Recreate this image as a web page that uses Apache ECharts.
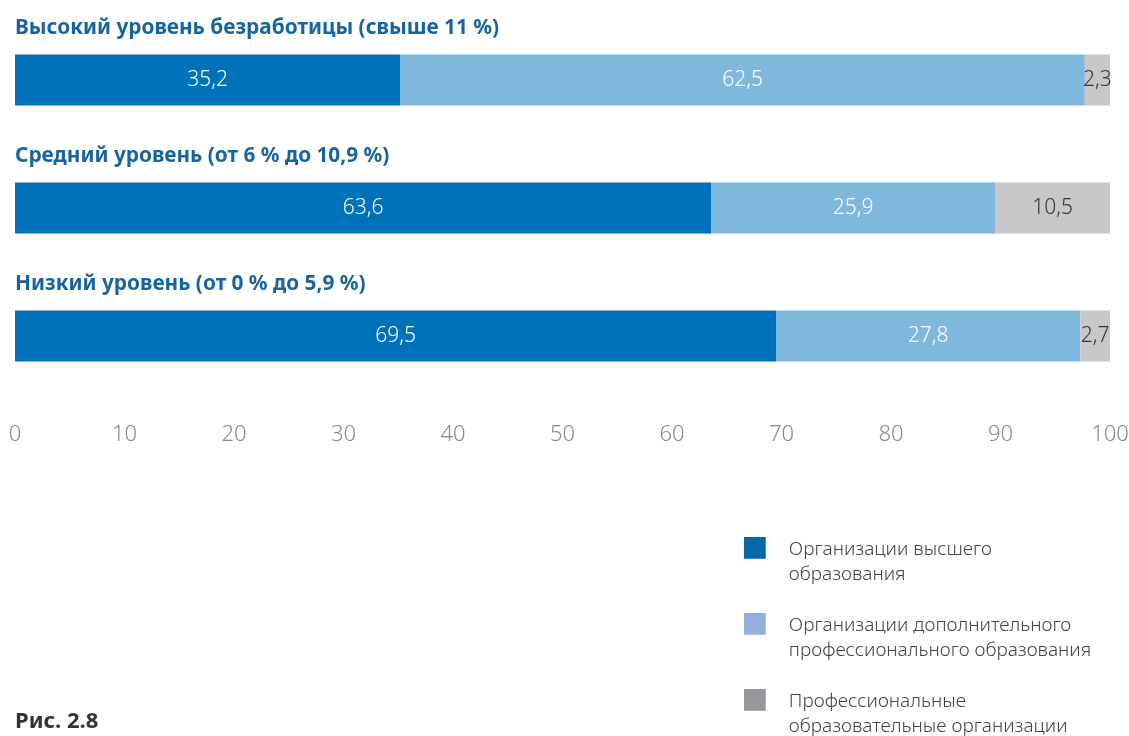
<!DOCTYPE html>
<html>
<head>
<meta charset="utf-8">
<script src="https://cdn.jsdelivr.net/npm/echarts@6/dist/echarts.min.js"></script>
<style>
  html, body { margin: 0; padding: 0; background: #ffffff; }
  #chart { width: 1129px; height: 736px; }
</style>
</head>
<body>
<div id="chart"></div>
<script>
// Unemployment groups (one bar per group, top to bottom)
const categories = [
  'Высокий уровень безработицы (свыше 11 %)',
  'Средний уровень (от 6 % до 10,9 %)',
  'Низкий уровень (от 0 % до 5,9 %)'
];

// Share of each organisation type, %
const seriesNames = [
  'Организации высшего\nобразования',
  'Организации дополнительного\nпрофессионального образования',
  'Профессиональные\nобразовательные организации'
];
const higherEdu = [35.2, 63.6, 69.5];
const additionalEdu = [62.5, 25.9, 27.8];
const vocationalEdu = [2.3, 10.5, 2.7];

const xTicks = [0, 10, 20, 30, 40, 50, 60, 70, 80, 90, 100];
const figureCaption = 'Рис. 2.8';

const FONT = '"Noto Sans", "Open Sans", sans-serif';
const barColors = ['#0071bb', '#80b7dd', '#c8c8ca'];
const legendColors = ['#0569a8', '#93b0dc', '#97979b'];
const labelColors = ['#ffffff', '#ffffff', '#333333'];

const chart = echarts.init(document.getElementById('chart'), null, { renderer: 'canvas' });

const fmt = v => String(v).replace('.', ',');
const valuesBySeries = [higherEdu, additionalEdu, vocationalEdu];

// square icon drawn in the top part of a taller box, so it sits next to the first text line
const legendIcon = 'path://M0,0L1,0L1,1L0,1Z M0,2.3L0.001,2.3';

const option = {
  animation: false,
  backgroundColor: '#ffffff',
  grid: { left: 15, right: 19, top: 16, bottom: 336, containLabel: false, outerBoundsMode: 'none' },
  xAxis: {
    type: 'value',
    min: 0,
    max: 100,
    interval: 10,
    axisLine: { show: false },
    axisTick: { show: false },
    splitLine: { show: false },
    axisLabel: {
      margin: 24,
      color: '#8a8a8a',
      fontFamily: FONT,
      fontWeight: 300,
      fontSize: 22,
      formatter: v => (xTicks.includes(v) ? String(v) : '')
    }
  },
  yAxis: {
    type: 'category',
    inverse: true,
    data: categories,
    axisLine: { show: false },
    axisTick: { show: false },
    axisLabel: { show: false }
  },
  legend: {
    orient: 'vertical',
    left: 744,
    top: 537,
    height: 260,
    padding: 0,
    itemWidth: 22,
    itemHeight: 50,
    itemGap: 26,
    icon: legendIcon,
    selectedMode: false,
    textStyle: {
      color: '#444444',
      fontFamily: FONT,
      fontWeight: 300,
      fontSize: 19,
      lineHeight: 25,
      padding: [0, 0, 0, 18]
    },
    data: seriesNames.map((n, i) => ({ name: n, itemStyle: { color: legendColors[i] } }))
  },
  series: seriesNames.map((name, i) => ({
    name: name,
    type: 'bar',
    stack: 'total',
    barWidth: 51,
    itemStyle: { color: barColors[i] },
    label: {
      show: true,
      position: 'inside',
      color: labelColors[i],
      fontFamily: FONT,
      fontWeight: 300,
      fontSize: 21,
      formatter: p => fmt(p.value)
    },
    labelLayout: { hideOverlap: false },
    data: valuesBySeries[i]
  }))
};

chart.setOption(option);

// Group titles above each bar, placed through the axis scales
const titleGraphics = categories.map((c, i) => {
  const y = chart.convertToPixel({ yAxisIndex: 0 }, i);
  const x = chart.convertToPixel({ xAxisIndex: 0 }, 0);
  return {
    type: 'text',
    left: x,
    top: y - 62,
    style: {
      text: c,
      fill: '#1665a2',
      font: 'bold 20.8px ' + FONT
    }
  };
});

chart.setOption({
  graphic: titleGraphics.concat([{
    type: 'text',
    left: 15,
    top: 711,
    style: { text: figureCaption, fill: '#333333', font: 'bold 22px ' + FONT }
  }])
});
</script>
</body>
</html>
